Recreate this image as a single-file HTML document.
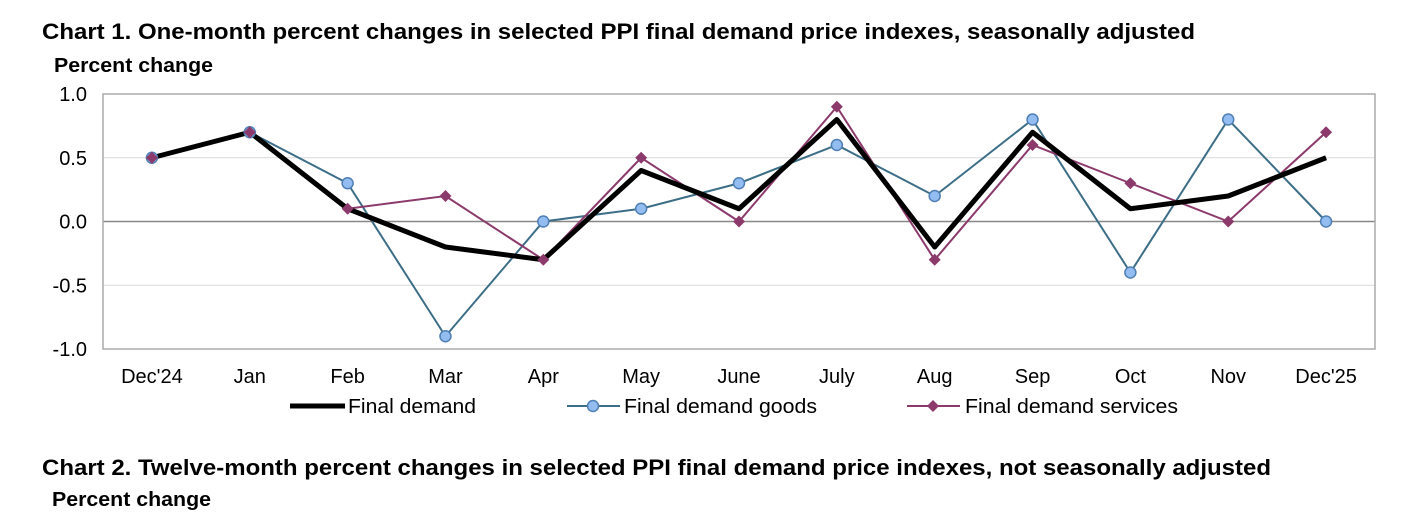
<!DOCTYPE html>
<html><head><meta charset="utf-8"><style>
body{margin:0;background:#fff;width:1418px;height:516px;overflow:hidden;font-family:"Liberation Sans",Arial,sans-serif}
svg{display:block}
</style></head><body>
<svg width="1418" height="516" id="chart">
<text x="42" y="39" font-size="22" font-weight="bold" fill="#000" textLength="1153" lengthAdjust="spacingAndGlyphs">Chart 1. One-month percent changes in selected PPI final demand price indexes, seasonally adjusted</text>
<text x="54" y="72" font-size="20" font-weight="bold" fill="#000" textLength="159" lengthAdjust="spacingAndGlyphs">Percent change</text>
<g id="plot"></g>
<text x="42" y="475" font-size="22" font-weight="bold" fill="#000" textLength="1229" lengthAdjust="spacingAndGlyphs">Chart 2. Twelve-month percent changes in selected PPI final demand price indexes, not seasonally adjusted</text>
<text x="52" y="506" font-size="20" font-weight="bold" fill="#000" textLength="159" lengthAdjust="spacingAndGlyphs">Percent change</text>
</svg>
<script>
const categories=["Dec'24","Jan","Feb","Mar","Apr","May","June","July","Aug","Sep","Oct","Nov","Dec'25"];
const finalDemand=[0.5,0.7,0.1,-0.2,-0.3,0.4,0.1,0.8,-0.2,0.7,0.1,0.2,0.5];
const goods=[0.5,0.7,0.3,-0.9,0.0,0.1,0.3,0.6,0.2,0.8,-0.4,0.8,0.0];
const services=[0.5,0.7,0.1,0.2,-0.3,0.5,0.0,0.9,-0.3,0.6,0.3,0.0,0.7];
const yTicks=[1.0,0.5,0.0,-0.5,-1.0];
const yTickLabels=["1.0","0.5","0.0","-0.5","-1.0"];

const NS="http://www.w3.org/2000/svg";
const L=103,R=1375,T=94,B=349;
const band=(R-L)/categories.length;
const x=i=>L+band*(i+0.5);
const y=v=>T+(1-v)/2*(B-T);
const g=document.getElementById('plot');
function mk(tag,a){const e=document.createElementNS(NS,tag);for(const k in a)e.setAttribute(k,a[k]);g.appendChild(e);return e;}

yTicks.forEach((t,i)=>{
  const gl=mk('line',{x1:L,x2:R,y1:y(t),y2:y(t),stroke:t===0?'#888':'#d9d9d9','stroke-width':t===0?1.5:1});
  
  
  const tl=mk('text',{x:87,y:y(t)+7,'font-size':20,'text-anchor':'end',fill:'#000'});
  tl.textContent=yTickLabels[i];
  
  
});
const frame=mk('rect',{x:L,y:T,width:R-L,height:B-T,fill:'none',stroke:'#aaa','stroke-width':1.5});


categories.forEach((c,i)=>{
  const t=mk('text',{x:x(i),y:383,'font-size':20,'text-anchor':'middle',fill:'#000'});
  t.textContent=c;
  
  
});
function pts(arr){return arr.map((v,i)=>x(i)+','+y(v)).join(' ');}
const gl=mk('polyline',{points:pts(goods),fill:'none',stroke:'#3d6e87','stroke-width':2});


const sl=mk('polyline',{points:pts(services),fill:'none',stroke:'#8b3a6b','stroke-width':2});


const fl=mk('polyline',{points:pts(finalDemand),fill:'none',stroke:'#000','stroke-width':5,'stroke-linejoin':'round'});


goods.forEach((v,i)=>{
  const c=mk('circle',{cx:x(i),cy:y(v),r:5.5,fill:'#93bdf0',stroke:'#4f7fb5','stroke-width':1.5});
  
  
});
services.forEach((v,i)=>{
  const cx=x(i),cy=y(v),s=6;
  const d=mk('polygon',{points:`${cx},${cy-s} ${cx+s},${cy} ${cx},${cy+s} ${cx-s},${cy}`,fill:'#8b3a6b'});
  
  
});
// legend
const lg1=mk('line',{x1:290,x2:345,y1:406,y2:406,stroke:'#000','stroke-width':5});


const lt1=mk('text',{x:348,y:413,'font-size':20,fill:'#000',textLength:128,lengthAdjust:'spacingAndGlyphs'});lt1.textContent='Final demand';


const lg2=mk('line',{x1:567,x2:620,y1:406,y2:406,stroke:'#3d6e87','stroke-width':2});


const lc2=mk('circle',{cx:593,cy:406,r:5.5,fill:'#93bdf0',stroke:'#4f7fb5','stroke-width':1.5});


const lt2=mk('text',{x:624,y:413,'font-size':20,fill:'#000',textLength:193,lengthAdjust:'spacingAndGlyphs'});lt2.textContent='Final demand goods';


const lg3=mk('line',{x1:907,x2:960,y1:406,y2:406,stroke:'#8b3a6b','stroke-width':2});


const ld3=mk('polygon',{points:'933,400 939,406 933,412 927,406',fill:'#8b3a6b'});


const lt3=mk('text',{x:965,y:413,'font-size':20,fill:'#000',textLength:213,lengthAdjust:'spacingAndGlyphs'});lt3.textContent='Final demand services';


</script>
</body></html>
